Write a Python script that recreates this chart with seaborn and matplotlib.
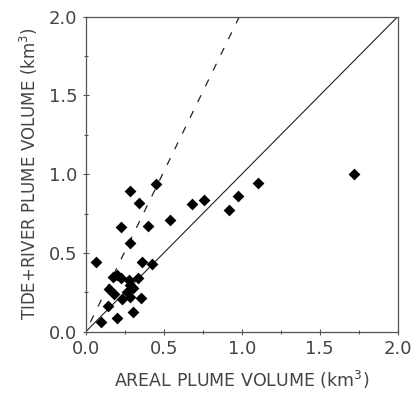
import numpy as np
import pandas as pd
import seaborn as sns
import matplotlib
matplotlib.use("Agg")
import matplotlib.pyplot as plt
from matplotlib.ticker import MultipleLocator

# values (km^3)
areal = [0.066, 0.284, 0.342, 0.451, 0.226, 0.402, 0.284, 0.538, 0.684, 0.758,
         0.917, 0.979, 1.103, 1.720, 0.363, 0.427, 0.199, 0.173, 0.226, 0.278,
         0.333, 0.152, 0.182, 0.284, 0.306, 0.263, 0.231, 0.355, 0.145, 0.098,
         0.199, 0.306, 0.284]
tide_river = [0.440, 0.895, 0.815, 0.938, 0.667, 0.673, 0.561, 0.709, 0.811, 0.836,
              0.772, 0.861, 0.942, 0.999, 0.440, 0.428, 0.360, 0.345, 0.339, 0.328,
              0.339, 0.269, 0.239, 0.296, 0.275, 0.254, 0.207, 0.216, 0.163, 0.063,
              0.085, 0.125, 0.222]

# reference lines: 1:1 and the steeper dashed one (drawn from the top down)
one_to_one_x = [0.0, 2.0]
one_to_one_y = [0.0, 2.0]
dashed_x = [0.985, 0.0]
dashed_y = [2.0, 0.0]

ticks = [0.0, 0.5, 1.0, 1.5, 2.0]

df = pd.DataFrame({"areal": areal, "tide_river": tide_river})

sns.set_style("ticks")
plt.rcParams['font.family'] = ['DejaVu Sans']
txt = "#444444"

fig = plt.figure(figsize=(4.15, 3.95), dpi=100)
ax = fig.add_axes([0.2065, 0.160, 0.752, 0.798])

ax.plot(one_to_one_x, one_to_one_y, color="#222222", lw=0.8)
ax.plot(dashed_x, dashed_y, color="#222222", lw=0.9, ls=(0, (6, 8)))
sns.scatterplot(data=df, x="areal", y="tide_river", marker="D", s=36,
                color="black", edgecolor="black", linewidth=0, ax=ax, zorder=3)

ax.set_xlim(0, 2)
ax.set_ylim(0, 2)
ax.set_xticks(ticks)
ax.set_yticks(ticks)
ax.set_xticklabels(["%.1f" % t for t in ticks])
ax.set_yticklabels(["%.1f" % t for t in ticks])
ax.xaxis.set_minor_locator(MultipleLocator(0.25))
ax.yaxis.set_minor_locator(MultipleLocator(0.25))
ax.tick_params(which="both", direction="inout", length=5, width=0.8, colors="#555555",
               labelcolor=txt, labelsize=13)
ax.tick_params(which="minor", length=3)
for sp in ax.spines.values():
    sp.set_visible(True)
    sp.set_color("#555555")
    sp.set_linewidth(0.9)

ax.set_xlabel("AREAL PLUME VOLUME (km$^3$)", fontsize=12.5, color=txt, labelpad=8)
ax.set_ylabel("TIDE+RIVER PLUME VOLUME (km$^3$)", fontsize=12, color=txt, labelpad=6)

fig.savefig("out.png", dpi=100)
